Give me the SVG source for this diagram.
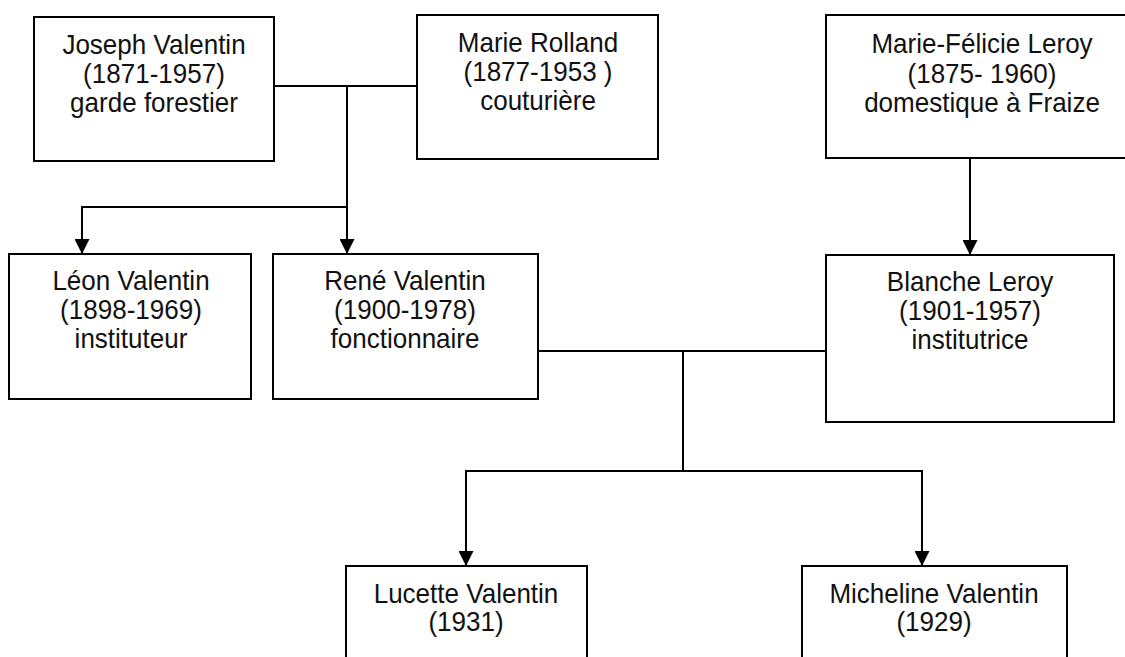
<svg xmlns="http://www.w3.org/2000/svg" width="1125" height="657" viewBox="0 0 1125 657">
<style>
.box{fill:#fff;stroke:#000;stroke-width:2}
.lbl{font-family:"Liberation Sans",Arial,sans-serif;font-size:28px;fill:#111;text-anchor:middle}
.con{fill:none;stroke:#000;stroke-width:2}
</style>
<defs>
<marker id="arr" viewBox="0 0 10 10" refX="10" refY="5" markerUnits="userSpaceOnUse" markerWidth="15" markerHeight="15" orient="auto">
<path d="M0,0 L10,5 L0,10 z" fill="#000"/>
</marker>
</defs>
<rect width="1125" height="657" fill="#fff"/>
<g id="connectors">
<line class="con" x1="274" y1="86" x2="417" y2="86"/>
<line class="con" x1="347" y1="86" x2="347" y2="254" marker-end="url(#arr)"/>
<path class="con" d="M347,207 H82 V254" marker-end="url(#arr)"/>
<line class="con" x1="970" y1="158" x2="970" y2="255" marker-end="url(#arr)"/>
<line class="con" x1="538" y1="351" x2="826" y2="351"/>
<line class="con" x1="683" y1="351" x2="683" y2="471"/>
<path class="con" d="M683,471 H466 V566" marker-end="url(#arr)"/>
<path class="con" d="M683,471 H922 V566" marker-end="url(#arr)"/>
</g>
<g id="joseph">
<rect class="box" x="34" y="17" width="240" height="144"/>
<text class="lbl" transform="translate(154,54) scale(0.93,1)">Joseph Valentin</text>
<text class="lbl" transform="translate(154,83) scale(0.93,1)">(1871-1957)</text>
<text class="lbl" transform="translate(154,112) scale(0.93,1)">garde forestier</text>
</g>
<g id="marie-rolland">
<rect class="box" x="417" y="15" width="241" height="144"/>
<text class="lbl" transform="translate(538,52) scale(0.93,1)">Marie Rolland</text>
<text class="lbl" transform="translate(538,81) scale(0.93,1)">(1877-1953 )</text>
<text class="lbl" transform="translate(538,110) scale(0.93,1)">couturière</text>
</g>
<g id="marie-felicie">
<rect class="box" x="826" y="15" width="312" height="143"/>
<text class="lbl" transform="translate(982,53) scale(0.93,1)">Marie-Félicie Leroy</text>
<text class="lbl" transform="translate(982,83) scale(0.93,1)">(1875- 1960)</text>
<text class="lbl" transform="translate(982,112) scale(0.93,1)">domestique à Fraize</text>
</g>
<g id="leon">
<rect class="box" x="9" y="254" width="242" height="145"/>
<text class="lbl" transform="translate(131,290) scale(0.93,1)">Léon Valentin</text>
<text class="lbl" transform="translate(131,319) scale(0.93,1)">(1898-1969)</text>
<text class="lbl" transform="translate(131,348) scale(0.93,1)">instituteur</text>
</g>
<g id="rene">
<rect class="box" x="273" y="254" width="265" height="145"/>
<text class="lbl" transform="translate(405,290) scale(0.93,1)">René Valentin</text>
<text class="lbl" transform="translate(405,319) scale(0.93,1)">(1900-1978)</text>
<text class="lbl" transform="translate(405,348) scale(0.93,1)">fonctionnaire</text>
</g>
<g id="blanche">
<rect class="box" x="826" y="255" width="288" height="167"/>
<text class="lbl" transform="translate(970,291) scale(0.93,1)">Blanche Leroy</text>
<text class="lbl" transform="translate(970,320) scale(0.93,1)">(1901-1957)</text>
<text class="lbl" transform="translate(970,349) scale(0.93,1)">institutrice</text>
</g>
<g id="lucette">
<rect class="box" x="346" y="566" width="241" height="140"/>
<text class="lbl" transform="translate(466,603) scale(0.93,1)">Lucette Valentin</text>
<text class="lbl" transform="translate(466,631) scale(0.93,1)">(1931)</text>
</g>
<g id="micheline">
<rect class="box" x="802" y="566" width="265" height="140"/>
<text class="lbl" transform="translate(934,603) scale(0.93,1)">Micheline Valentin</text>
<text class="lbl" transform="translate(934,631) scale(0.93,1)">(1929)</text>
</g>
</svg>
